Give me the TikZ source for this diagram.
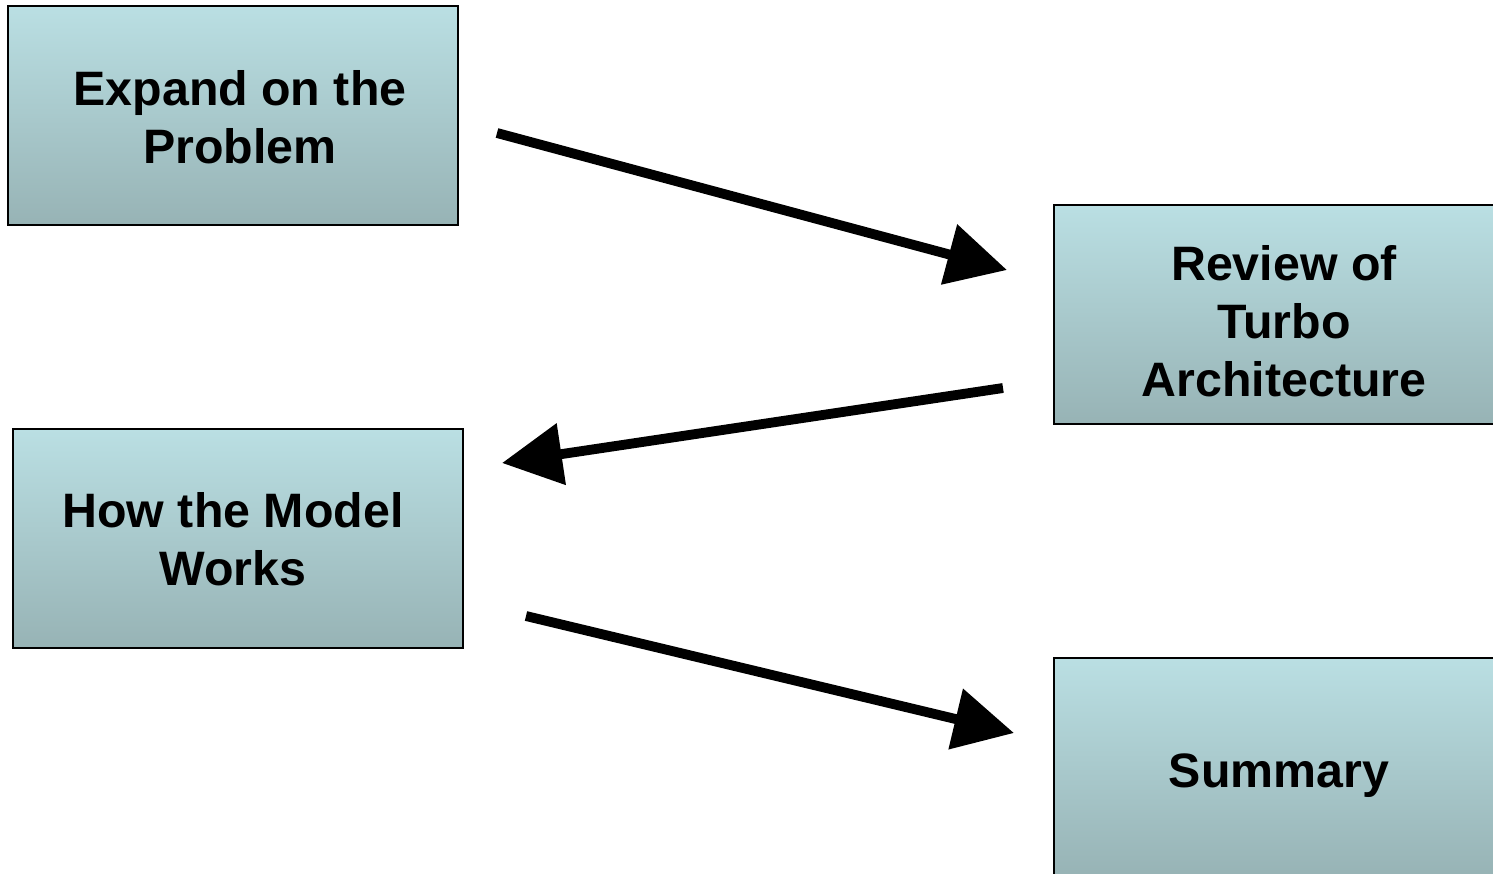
\documentclass[tikz,border=0pt]{standalone}
\usepackage{fontspec}
\setmainfont{Liberation Sans}
\usetikzlibrary{arrows.meta}
\tikzset{
	riquadro/.style={draw=black, line width=1.1pt, top color=topcol, bottom color=botcol,
		minimum width=9cm, minimum height=4.38cm},
	testo/.style={align=center, font=\fontsize{27.5}{33}\selectfont\bfseries},
	freccia/.style={line width=5.6pt, -{Triangle[length=1.2cm, width=1.2cm]}}
}
\definecolor{topcol}{HTML}{BADFE3}
\definecolor{botcol}{HTML}{97B3B5}
\begin{document}
\begin{tikzpicture}[x=0.02cm, y=-0.02cm]
		\useasboundingbox (0,0) rectangle (1493,873);
		% riquadri
		\node[riquadro] (espandi) at (233,115.5) {};
		\node[riquadro] (turbo) at (1279,314.5) {};
		\node[riquadro] (modello) at (238,538.5) {};
		\node[riquadro] (sommario) at (1279,767.5) {};
		
		% testi
		\node[testo] (tEspandi) at ([shift={(7,2)}]espandi) {Expand on the\\Problem};
		\node[testo] (tTurbo) at ([shift={(5,7)}]turbo) {Review of\\Turbo\\Architecture};
		\node[testo] (tModello) at ([shift={(-5,1)}]modello) {How the Model\\Works};
		\node[testo] (tSommario) at ([shift={(0,8)}]sommario) {Summary};
		
		% estremi delle frecce
		\coordinate (A1) at (497,133);
		\coordinate (B1) at (1007,270);
		\coordinate (A2) at (1003,388);
		\coordinate (B2) at (502,463);
		\coordinate (A3) at (526,616);
		\coordinate (B3) at (1014,733);
		
		% frecce
		\draw[freccia] (A1) -- (B1);
		\draw[freccia] (A2) -- (B2);
		\draw[freccia] (A3) -- (B3);
	\end{tikzpicture}
\end{document}
